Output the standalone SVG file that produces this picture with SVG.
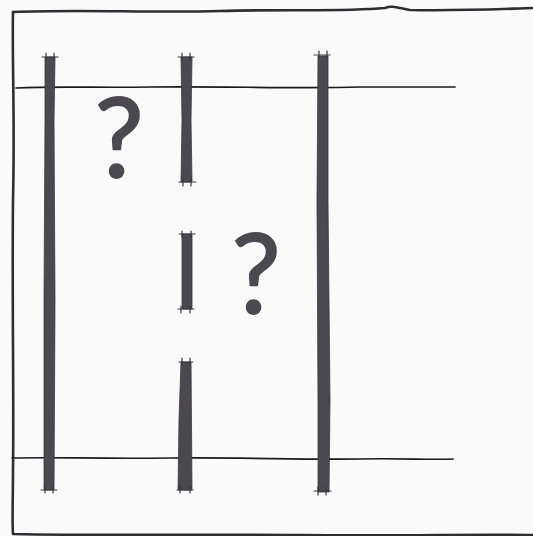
<svg xmlns="http://www.w3.org/2000/svg" width="533" height="536" viewBox="0 0 533 536">
<style>
.bg{fill:#fafafa}
.frame{fill:none;stroke:#2e2e32;stroke-width:2.6;stroke-linejoin:round;stroke-linecap:round}
.line{fill:none;stroke:#1a1a1e;stroke-width:1.7;stroke-linecap:round}
.post{fill:#4b494f;stroke:#3a383e;stroke-width:0.8}
.tick{fill:none;stroke:#3a383e;stroke-width:1.2;stroke-linecap:round}
.q{font-family:Lato,"DejaVu Sans",sans-serif;font-size:110px;fill:#4b494f;stroke:#4b494f;stroke-width:1.8;stroke-linejoin:round}
</style>
<rect class="bg" x="0" y="0" width="533" height="536"/>
<g id="frame">
<path class="frame" d="M13,12 C80,9 150,13 220,11 C290,9 340,12 385,8 C392,5 398,8 410,10 C460,11 500,9 533,8"/>
<path class="frame" d="M13,12 C12,60 15,120 13,200 C12,300 14,400 13,470 C13,500 12,520 13,534 C100,536 200,534 300,535 C400,536 480,534 533,535"/>
</g>
<g id="rails">
<path class="line" d="M16,88 C60,86 100,88 150,87 C220,86 300,89 360,87 C400,87 430,87 455,87"/>
<path class="line" d="M12,458 C60,457 100,459 170,458 C240,457 300,460 360,459 C400,458 430,460 453,459"/>
</g>
<g id="post1">
<path class="post" d="M45,57 L55,57 L54,120 L55,300 L54,490 L44,490 L44,300 L45,120 Z"/>
<path class="tick" d="M42,57 H58 M46,53 V60 M54,53 V60 M41,490 H57 M45,486 V493 M53,486 V493"/>
</g>
<g id="post2">
<path class="post" d="M181,57 L192,57 L191,120 L192,182 L181,182 L182,120 Z"/>
<path class="tick" d="M178,57 H194 M182,53 V60 M190,53 V60 M179,182 H196 M183,178 V186 M191,178 V186"/>
<path class="post" d="M182,234 L192,234 L192,309 L182,309 Z"/>
<path class="tick" d="M179,234 H195 M182,231 V237 M191,231 V237 M178,309 H194 M181,306 V313 M190,306 V313"/>
<path class="post" d="M181,362 L191,362 L192,490 L178,490 L179,420 Z"/>
<path class="tick" d="M179,362 H193 M182,358 V365 M190,358 V365 M177,490 H193 M180,486 V493 M190,486 V493"/>
</g>
<g id="post3">
<path class="post" d="M318,56 L328,56 L328,200 L330,400 L329,492 L318,492 L318,400 L317,200 Z"/>
<path class="tick" d="M314,55 H330 M319,51 V58 M327,51 V58 M314,491 H331 M318,487 V495 M326,487 V495"/>
</g>
<g id="q1"><text class="q" x="119" y="177" text-anchor="middle">?</text></g>
<g id="q2"><text class="q" x="256" y="313" text-anchor="middle">?</text></g>
</svg>
